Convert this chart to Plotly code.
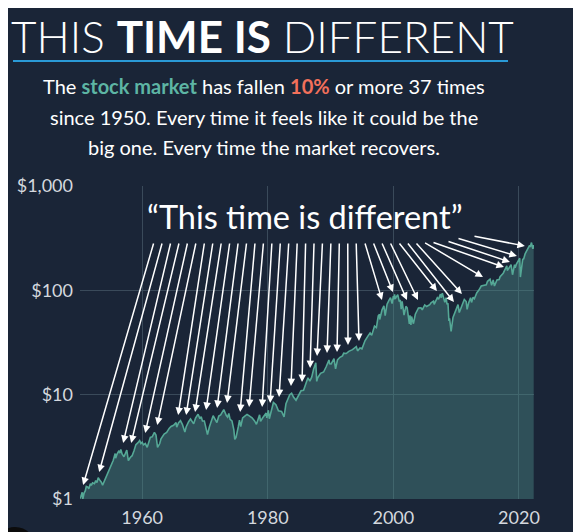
import math
import plotly.graph_objects as go

# ---------------- data (growth of $1 invested in the S&P 500 since 1950) -------------
years = [
    1950.00, 1950.25, 1950.45, 1950.55, 1950.75, 1950.95, 1951.10, 1951.35, 1951.50, 1951.75, 1951.90,
    1952.10, 1952.40, 1952.60, 1952.80, 1953.00, 1953.30, 1953.50, 1953.70, 1954.00, 1954.30, 1954.60,
    1954.90, 1955.10, 1955.40, 1955.70, 1955.78, 1956.00, 1956.30, 1956.45, 1956.60, 1956.80, 1957.10,
    1957.55, 1957.80, 1958.10, 1958.40, 1958.70, 1959.00, 1959.30, 1959.60, 1959.80, 1960.00, 1960.20,
    1960.50, 1960.80, 1961.00, 1961.30, 1961.60, 1961.95, 1962.20, 1962.45, 1962.80, 1963.00, 1963.50,
    1963.90, 1964.30, 1964.60, 1965.00, 1965.40, 1965.50, 1965.80, 1966.10, 1966.40, 1966.80, 1967.00,
    1967.40, 1967.70, 1968.20, 1968.50, 1968.90, 1969.20, 1969.40, 1969.60, 1969.90, 1970.40, 1970.70,
    1971.00, 1971.30, 1971.90, 1972.20, 1972.50, 1973.00, 1973.40, 1973.60, 1973.80, 1974.00, 1974.30,
    1974.60, 1974.75, 1974.95, 1975.30, 1975.50, 1975.70, 1976.00, 1976.30, 1976.70, 1977.00, 1977.50,
    1977.90, 1978.20, 1978.70, 1978.85, 1979.20, 1979.75, 1979.85, 1980.10, 1980.25, 1980.60, 1980.90,
    1981.30, 1981.70, 1982.20, 1982.60, 1982.90, 1983.30, 1983.50, 1983.80, 1984.10, 1984.50, 1984.90,
    1985.30, 1985.70, 1986.00, 1986.40, 1986.70, 1987.00, 1987.30, 1987.65, 1987.80, 1987.95, 1988.40,
    1988.90, 1989.30, 1989.75, 1989.85, 1990.10, 1990.55, 1990.80, 1991.10, 1991.50, 1991.90, 1992.10,
    1992.50, 1992.90, 1993.50, 1994.10, 1994.30, 1994.70, 1995.00, 1995.50, 1996.00, 1996.30, 1996.55,
    1997.00, 1997.30, 1997.60, 1997.80, 1997.83, 1998.20, 1998.50, 1998.70, 1999.00, 1999.30, 1999.55,
    1999.80, 2000.00, 2000.10, 2000.20, 2000.30, 2000.70, 2000.95, 2001.10, 2001.25, 2001.40, 2001.70,
    2002.00, 2002.20, 2002.55, 2002.65, 2002.80, 2002.90, 2003.20, 2003.50, 2004.00, 2004.40, 2004.60,
    2005.00, 2005.30, 2005.80, 2006.00, 2006.40, 2006.50, 2007.00, 2007.20, 2007.50, 2007.60, 2007.80,
    2008.20, 2008.40, 2008.55, 2008.70, 2008.85, 2008.95, 2009.20, 2009.50, 2010.00, 2010.30, 2010.50,
    2010.90, 2011.30, 2011.60, 2011.75, 2012.00, 2012.30, 2012.45, 2012.70, 2012.90, 2013.30, 2013.60,
    2014.00, 2014.80, 2015.00, 2015.40, 2015.65, 2015.90, 2016.10, 2016.50, 2016.85, 2017.00, 2017.50,
    2018.07, 2018.15, 2018.75, 2018.98, 2019.30, 2019.40, 2019.60, 2020.00, 2020.13, 2020.23, 2020.45,
    2020.60, 2020.75, 2021.00, 2021.40, 2021.70, 2021.80, 2022.00, 2022.15, 2022.22, 2022.28, 2022.35,
]
values = [
    1.00, 1.06, 1.16, 1.00, 1.14, 1.20, 1.32, 1.30, 1.25, 1.40, 1.35,
    1.43, 1.40, 1.50, 1.44, 1.60, 1.50, 1.45, 1.36, 1.50, 1.65, 1.80,
    2.05, 2.20, 2.35, 2.73, 2.46, 2.70, 2.90, 2.75, 2.98, 2.70, 2.54,
    2.94, 2.33, 2.50, 2.60, 2.90, 3.32, 3.45, 3.63, 3.40, 3.50, 3.30,
    3.40, 3.13, 3.45, 3.90, 3.95, 4.35, 4.10, 3.13, 3.40, 3.77, 4.19,
    4.35, 4.75, 4.95, 5.09, 5.40, 4.89, 5.40, 5.63, 5.20, 4.38, 4.90,
    5.50, 5.84, 5.25, 5.95, 6.49, 5.90, 6.15, 5.60, 5.60, 4.15, 4.90,
    5.60, 6.28, 5.40, 6.25, 6.41, 7.20, 6.30, 6.10, 6.60, 5.80, 5.60,
    4.60, 3.73, 3.90, 4.90, 5.70, 4.95, 5.99, 6.20, 6.46, 6.30, 6.00,
    5.60, 5.20, 6.41, 5.54, 6.00, 6.66, 5.98, 7.09, 5.88, 7.00, 8.41,
    8.00, 7.00, 6.90, 6.13, 8.20, 9.20, 10.0, 10.34, 9.50, 8.85, 9.90,
    10.9, 11.0, 12.6, 14.5, 13.5, 14.7, 17.5, 20.2, 13.4, 14.5, 16.0,
    16.5, 18.5, 21.5, 19.8, 19.7, 22.1, 17.7, 21.5, 22.8, 23.5, 25.0,
    24.8, 26.0, 27.0, 28.9, 26.3, 28.0, 27.5, 33.0, 36.8, 39.0, 37.0,
    45.5, 44.0, 57.0, 58.9, 52.5, 65.0, 71.1, 57.3, 73.6, 80.0, 85.0,
    74.7, 88.0, 82.0, 91.4, 83.0, 91.0, 78.0, 81.0, 66.0, 78.6, 57.8,
    70.2, 68.0, 47.7, 57.7, 46.5, 56.2, 47.9, 59.0, 67.7, 68.0, 65.0,
    72.5, 70.0, 73.0, 76.0, 79.0, 73.4, 85.0, 82.0, 92.0, 85.0, 93.7,
    76.6, 85.0, 73.5, 75.0, 50.9, 54.0, 40.5, 55.1, 66.8, 72.9, 61.2,
    71.0, 81.7, 78.0, 65.8, 76.0, 85.0, 76.6, 86.0, 83.0, 95.0, 100.0,
    110.0, 113.0, 122.0, 128.0, 112.0, 126.0, 110.0, 126.0, 127.0, 135.0, 146.0,
    172.0, 155.0, 176.0, 141.0, 176.0, 165.0, 178.0, 194.0, 203.0, 134.0, 185.0,
    198.0, 200.0, 225.0, 250.0, 270.0, 260.0, 287.0, 258.0, 250.0, 272.0, 250.0,
]

# the 37 declines of 10% or more: arrow tips (year, value)
peak_years = [
    1950.6, 1953.15, 1956.97, 1958.25, 1960.48, 1962.4, 1965.73, 1967.0, 1968.43, 1970.18,
    1971.93, 1973.52, 1975.6, 1977.03, 1979.1, 1980.37, 1981.8, 1983.7, 1985.46, 1986.74,
    1987.85, 1989.44, 1991.03, 1992.78, 1994.53, 1998.19, 1999.94, 2002.17, 2003.92, 2006.94,
    2009.65, 2010.92, 2014.27, 2017.61, 2018.56, 2019.68, 2020.95,
]
peak_values = [
    1.36, 1.81, 3.44, 3.44, 4.29, 5.12, 6.38, 6.38, 6.82, 7.13,
    7.45, 8.32, 6.82, 7.62, 7.62, 8.32, 9.5, 12.1, 13.2, 18.0,
    23.5, 25.1, 25.6, 29.9, 32.7, 80.8, 96.4, 80.8, 80.8, 98.6,
    77.3, 92.2, 134.0, 167.0, 187.0, 213.0, 266.0,
]

y_tickvals = [1, 10, 100, 1000]
y_ticktext = ["$1", "$10", "$100", "$1,000"]
x_tickvals = [1960, 1980, 2000, 2020]
x_ticktext = ["1960", "1980", "2000", "2020"]

title_html = "THIS <b>TIME IS</b> DIFFERENT"
subtitle_lines = [
    "The <b><span style='color:#5db5a4'>stock market</span></b> has fallen "
    "<b><span style='color:#f2705b'>10%</span></b> or more 37 times",
    "since 1950. Every time it feels like it could be the",
    "big one. Every time the market recovers.",
]
quote_text = "\u201cThis time is different\u201d"

# ---------------- layout geometry ----------------
# The page places the figure 8px in from the window's corner, so every
# window-pixel position is converted to a figure-pixel position first.
OFF = 8
W, H = 581, 532
PL, PR, PT, PB = 80 - OFF, 534 - OFF, 186 - OFF, 499 - OFF   # plot area, figure pixels
X_RANGE = [1950.1, 2022.4]
Y_RANGE = [0, 3]                            # log10

BG = "#1a2537"
FONT = "Lato"


def px2year(px):
    return X_RANGE[0] + (px - OFF - PL) / (PR - PL) * (X_RANGE[1] - X_RANGE[0])


def py2log(py):
    return Y_RANGE[0] + (PB - (py - OFF)) / (PB - PT) * (Y_RANGE[1] - Y_RANGE[0])


def px2paper(px):
    return (px - OFF - PL) / (PR - PL)


def py2paper(py):
    return (PB - (py - OFF)) / (PB - PT)


fig = go.Figure()
fig.add_trace(go.Scatter(
    x=years, y=values, mode="lines",
    line=dict(color="#55a896", width=1.6),
    fill="tozeroy", fillcolor="rgba(77,140,136,0.42)",
    hoverinfo="skip", showlegend=False,
))

annotations = []
shapes = []

# arrows from the quote to every decline (tails given in window pixels)
n = len(peak_years)
tails_x = [154 + i * (432 - 154) / 33 for i in range(34)] + [447, 457, 473]
tails_y = [242] * 34 + [241, 238, 236]
for i in range(n):
    annotations.append(dict(
        x=peak_years[i], y=math.log10(peak_values[i]), xref="x", yref="y",
        ax=px2year(tails_x[i]), ay=py2log(tails_y[i]), axref="x", ayref="y",
        showarrow=True, arrowhead=2, arrowsize=1, arrowwidth=1.5, arrowcolor="white",
        text="",
    ))

annotations.append(dict(
    x=px2paper(304.5), y=py2paper(216), xref="paper", yref="paper",
    text=quote_text, showarrow=False, xanchor="center", yanchor="middle",
    font=dict(family=FONT, size=32.5, color="white"),
))

# title: its text box starts at the top edge of the figure
annotations.append(dict(
    x=px2paper(262.5), y=py2paper(OFF + 0.5), xref="paper", yref="paper",
    text=title_html, showarrow=False, xanchor="center", yanchor="top",
    font=dict(family=FONT, size=44, color="white", weight=300),
))

for i, line in enumerate(subtitle_lines):
    annotations.append(dict(
        x=px2paper(263.5), y=py2paper([86, 117, 147][i]), xref="paper", yref="paper",
        text=line, showarrow=False, xanchor="center", yanchor="middle",
        font=dict(family=FONT, size=20, color="white"),
    ))

# blue rule under title
shapes.append(dict(type="line", xref="paper", yref="paper",
                   x0=px2paper(13), x1=px2paper(508), y0=py2paper(61), y1=py2paper(61),
                   line=dict(color="#2a9ad6", width=2)))
# dark frame edge of the screenshot (right side)
shapes.append(dict(type="rect", xref="paper", yref="paper", layer="above",
                   x0=px2paper(577), x1=px2paper(W + 10), y0=py2paper(H + 10), y1=py2paper(-2),
                   fillcolor="#121212", line=dict(width=0)))
shapes.append(dict(type="circle", xref="paper", yref="paper", layer="above",
                   x0=px2paper(-6), x1=px2paper(36), y0=py2paper(569), y1=py2paper(527),
                   fillcolor="#0c0c0c", line=dict(width=0)))

fig.update_layout(
    template="none",
    width=W, height=H, autosize=False,
    margin=dict(l=PL, r=W - PR, t=PT, b=H - PB, pad=0, autoexpand=False),
    paper_bgcolor=BG, plot_bgcolor=BG,
    font=dict(family=FONT, color="#d4d8de"),
    annotations=annotations, shapes=shapes,
    showlegend=False,
)
fig.update_xaxes(
    range=X_RANGE, tickvals=x_tickvals, ticktext=x_ticktext, automargin=False,
    showgrid=True, gridcolor="#3a4a5a", gridwidth=1,
    zeroline=False, showline=False, ticks="",
    tickfont=dict(family=FONT, size=18, color="#d4d8de"),
    ticklabelstandoff=6,
)
fig.update_yaxes(
    type="log", range=Y_RANGE, tickvals=y_tickvals, ticktext=y_ticktext, automargin=False,
    showgrid=True, gridcolor="#3a4a5a", gridwidth=1,
    zeroline=False, showline=False, ticks="",
    tickfont=dict(family=FONT, size=18, color="#d4d8de"),
    ticklabelstandoff=6,
)

fig.write_html("out.html")
